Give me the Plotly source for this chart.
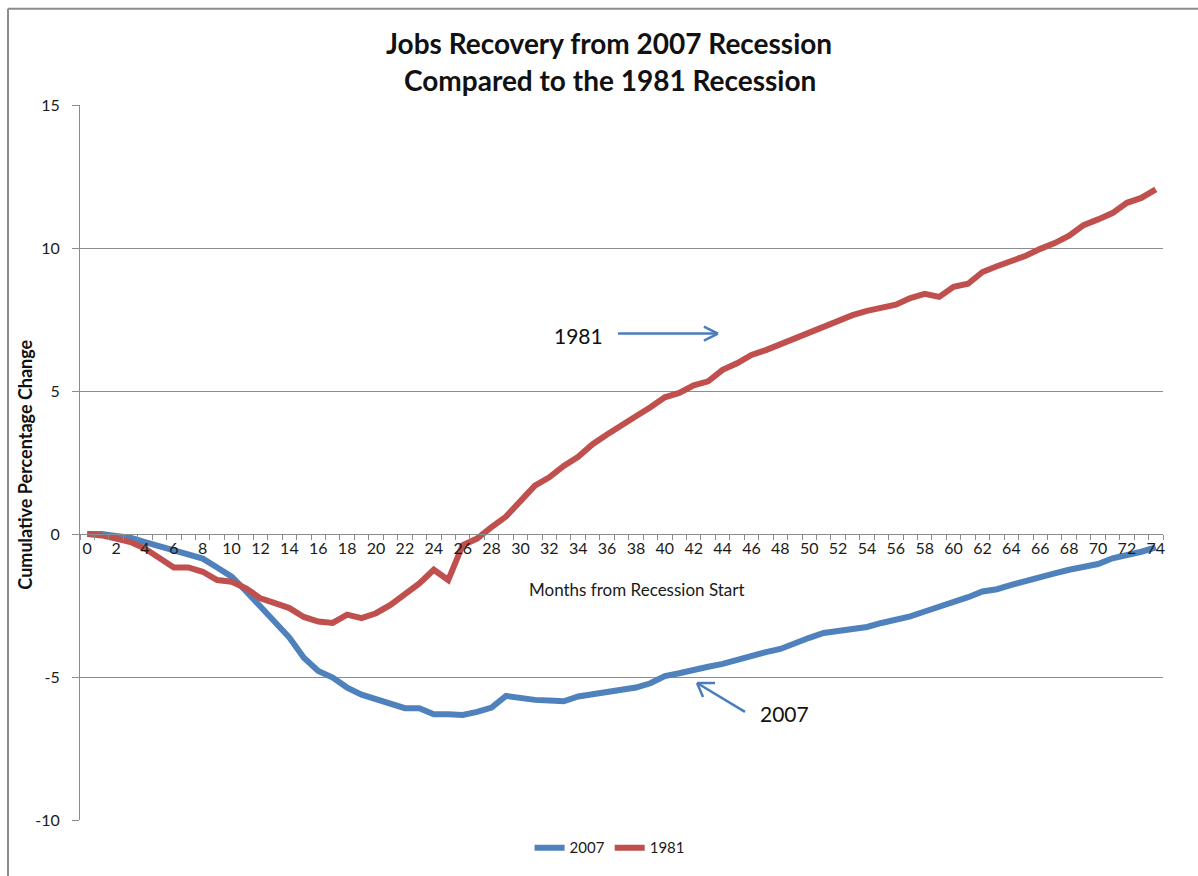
import plotly.graph_objects as go

months = list(range(75))

jobs_2007 = [0.0, 0.0, -0.07, -0.13, -0.28, -0.43, -0.54, -0.68, -0.86, -1.17,
             -1.49, -2.0, -2.53, -3.1, -3.62, -4.33, -4.79, -5.02, -5.37, -5.62,
             -5.78, -5.95, -6.09, -6.09, -6.3, -6.3, -6.33, -6.22, -6.07, -5.66,
             -5.74, -5.8, -5.82, -5.85, -5.68, -5.6, -5.54, -5.49, -5.37, -5.22,
             -4.97, -4.87, -4.73, -4.64, -4.54, -4.39, -4.25, -4.13, -4.02, -3.81,
             -3.63, -3.46, -3.4, -3.32, -3.25, -3.11, -3.0, -2.88, -2.71, -2.56,
             -2.36, -2.21, -2.01, -1.93, -1.78, -1.63, -1.49, -1.38, -1.25, -1.15,
             -1.05, -0.85, -0.75, -0.62, -0.47]

jobs_1981 = [0.0, -0.05, -0.16, -0.28, -0.51, -0.86, -1.17, -1.17, -1.32, -1.61,
             -1.67, -1.9, -2.25, -2.42, -2.59, -2.9, -3.06, -3.11, -2.82, -2.94,
             -2.77, -2.48, -2.13, -1.73, -1.25, -1.61, -0.39, -0.16, 0.24, 0.61,
             1.15, 1.69, 1.98, 2.38, 2.7, 3.14, 3.48, 3.77, 4.12, 4.43,
             4.78, 4.93, 5.2, 5.34, 5.74, 5.97, 6.26, 6.43, 6.63, 6.86,
             7.06, 7.25, 7.48, 7.65, 7.8, 7.9, 8.02, 8.25, 8.4, 8.29,
             8.64, 8.75, 9.16, 9.36, 9.52, 9.73, 9.97, 10.17, 10.43, 10.8,
             11.0, 11.22, 11.58, 11.75, 12.05]

x_tick_vals = list(range(0, 75, 2))
x_tick_labels = [str(m) for m in x_tick_vals]
y_ticks = [-10, -5, 0, 5, 10, 15]
y_tick_labels = ["-10", "-5", "0", "5", "10", "15"]

BLUE = "#4F81BD"
RED = "#C0504D"
ARROW = "#4A7EBB"
GRID = "#8C8C8C"
FONT = "Lato"
TXT = "#1a1a1a"

fig = go.Figure()
fig.add_trace(go.Scatter(x=months, y=jobs_2007, name="2007", mode="lines",
                         line=dict(color=BLUE, width=6)))
fig.add_trace(go.Scatter(x=months, y=jobs_1981, name="1981", mode="lines",
                         line=dict(color=RED, width=6)))

fig.update_layout(
    width=1198, height=876,
    margin=dict(l=80, r=35, t=105, b=51),
    paper_bgcolor="white", plot_bgcolor="white",
    font=dict(family=FONT, size=15, color=TXT),
    showlegend=True,
    legend=dict(orientation="h", x=0.489, xanchor="center", y=-0.039, yanchor="middle",
                font=dict(size=15, color=TXT), itemwidth=30, tracegroupgap=0),
)

fig.update_xaxes(
    range=[-0.5, 74.5], anchor="free", position=0.4,
    showline=True, linecolor=GRID, linewidth=1,
    showgrid=False, zeroline=False,
    tickmode="array", tickvals=x_tick_vals, ticktext=x_tick_labels,
    ticks="", tickfont=dict(size=16, color=TXT),
    minor=dict(ticks="outside", tick0=-0.5, dtick=1, ticklen=5, tickcolor=GRID, showgrid=False),
)
fig.update_yaxes(
    range=[-10, 15], tickmode="array", tickvals=y_ticks, ticktext=y_tick_labels,
    showline=True, linecolor=GRID, linewidth=1,
    showgrid=True, gridcolor=GRID, gridwidth=1, zeroline=False,
    ticks="outside", ticklen=7, tickcolor=GRID,
    ticklabelstandoff=9, tickfont=dict(size=16, color=TXT),
)

# Titles
fig.add_annotation(text="<b>Jobs Recovery from 2007 Recession</b>", xref="paper", yref="paper",
                   x=0.488, y=(825 - 43) / 720, showarrow=False, xanchor="center", yanchor="middle",
                   font=dict(size=28, family=FONT, color="#111111"))
fig.add_annotation(text="<b>Compared to the 1981 Recession</b>", xref="paper", yref="paper",
                   x=0.489, y=(825 - 80) / 720, showarrow=False, xanchor="center", yanchor="middle",
                   font=dict(size=28, family=FONT, color="#111111"))
fig.add_annotation(text="Months from Recession Start", xref="paper", yref="paper",
                   x=0.514, y=(825 - 593) / 720, showarrow=False, xanchor="center", yanchor="middle",
                   font=dict(size=17, family=FONT, color=TXT))
fig.add_annotation(text="<b>Cumulative Percentage Change</b>", xref="paper", yref="paper",
                   x=-0.0508, y=0.497, showarrow=False, textangle=-90,
                   xanchor="center", yanchor="middle",
                   font=dict(size=18, family=FONT, color="#111111"))

# Callout labels
fig.add_annotation(text="1981", x=33.99, y=6.94, showarrow=False,
                   font=dict(size=21, family=FONT, color="#111111"))
fig.add_annotation(text="2007", x=48.32, y=-6.28, showarrow=False,
                   font=dict(size=21, family=FONT, color="#111111"))

# Arrows: shafts (data coords) and open heads (pixel legs anchored at tip)
arrows = [
    dict(tail=(36.76, 7.01), tip=(43.68, 7.01), legs=[(-14, 7), (-14, -7)]),
    dict(tail=(45.55, -6.22), tip=(42.23, -5.21), legs=[(18, 0), (6, -14)]),
]
for a in arrows:
    fig.add_shape(type="line", x0=a["tail"][0], y0=a["tail"][1], x1=a["tip"][0], y1=a["tip"][1],
                  xref="x", yref="y", line=dict(color=ARROW, width=2.5))
    for lx, ly in a["legs"]:
        fig.add_shape(type="line", xref="x", yref="y",
                      xsizemode="pixel", ysizemode="pixel",
                      xanchor=a["tip"][0], yanchor=a["tip"][1],
                      x0=0, y0=0, x1=lx, y1=ly, line=dict(color=ARROW, width=2.5))

# Chart frame (left and top edges visible)
fx = (8 - 80) / 1083
fy = (825 - 8) / 720
fig.add_shape(type="line", xref="paper", yref="paper", x0=fx, y0=fy, x1=fx, y1=-0.2,
              line=dict(color=GRID, width=2))
fig.add_shape(type="line", xref="paper", yref="paper", x0=fx, y0=fy, x1=1.2, y1=fy,
              line=dict(color=GRID, width=2))

fig.write_html("out.html")
